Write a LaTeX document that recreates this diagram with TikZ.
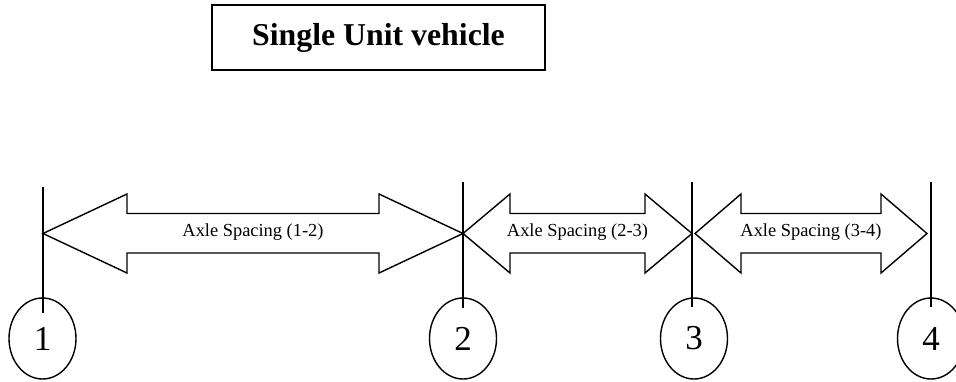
\documentclass[tikz,border=0pt]{standalone}
\usepackage{fontspec}
\setmainfont{Liberation Serif}
\usetikzlibrary{shapes.geometric}
\tikzset{
  titlebox/.style={draw, line width=1.8pt, minimum width=333pt, minimum height=65pt, inner sep=0pt,
    font=\fontsize{31.8}{31.8}\selectfont\bfseries},
  axleline/.style={line width=1.4pt},
  spanarrow/.style={draw, line width=1.4pt, line join=miter},
  spanlabel/.style={inner sep=0pt, font=\fontsize{18.4}{18.4}\selectfont},
  axlenum/.style={draw, ellipse, line width=1.4pt, minimum width=67pt, minimum height=81pt, inner sep=0pt,
    font=\fontsize{35}{35}\selectfont}
}
\newcommand\spanarr[3]{% left tip x, right tip x, head length
  \draw[spanarrow] (#1,233.5) -- ({#1+#3},194) -- ({#1+#3},213.5) -- ({#2-#3},213.5) -- ({#2-#3},194)
    -- (#2,233.5) -- ({#2-#3},273) -- ({#2-#3},253) -- ({#1+#3},253) -- ({#1+#3},273) -- cycle;}
\begin{document}
\begin{tikzpicture}[x=1pt,y=-1pt]
\useasboundingbox (0,0) rectangle (956,381);

\node[titlebox] (title) at (378.5,37.5) {Single Unit vehicle};

% axle coordinates
\coordinate (t1) at (43,187);  \coordinate (b1) at (43,313);
\coordinate (t2) at (463,182); \coordinate (b2) at (463,308);
\coordinate (t3) at (692,182); \coordinate (b3) at (692,307);
\coordinate (t4) at (931,182); \coordinate (b4) at (931,307);

% span arrows
\spanarr{43}{463}{84}
\spanarr{463}{692}{47}
\spanarr{695}{927}{46}

\node[spanlabel] (s12) at (253,232) {Axle Spacing (1-2)};
\node[spanlabel] (s23) at (577.5,232) {Axle Spacing (2-3)};
\node[spanlabel] (s34) at (811,232) {Axle Spacing (3-4)};

% axle circles
\node[axlenum] (n1) at (42.5,338.5) {1};
\node[axlenum] (n2) at (463,338.5) {2};
\node[axlenum] (n3) at (694,338.5) {3};
\node[axlenum] (n4) at (931,338.5) {4};

% vertical axle lines
\draw[axleline] (t1) -- (b1);
\draw[axleline] (t2) -- (b2);
\draw[axleline] (t3) -- (b3);
\draw[axleline] (t4) -- (b4);
\end{tikzpicture}
\end{document}
